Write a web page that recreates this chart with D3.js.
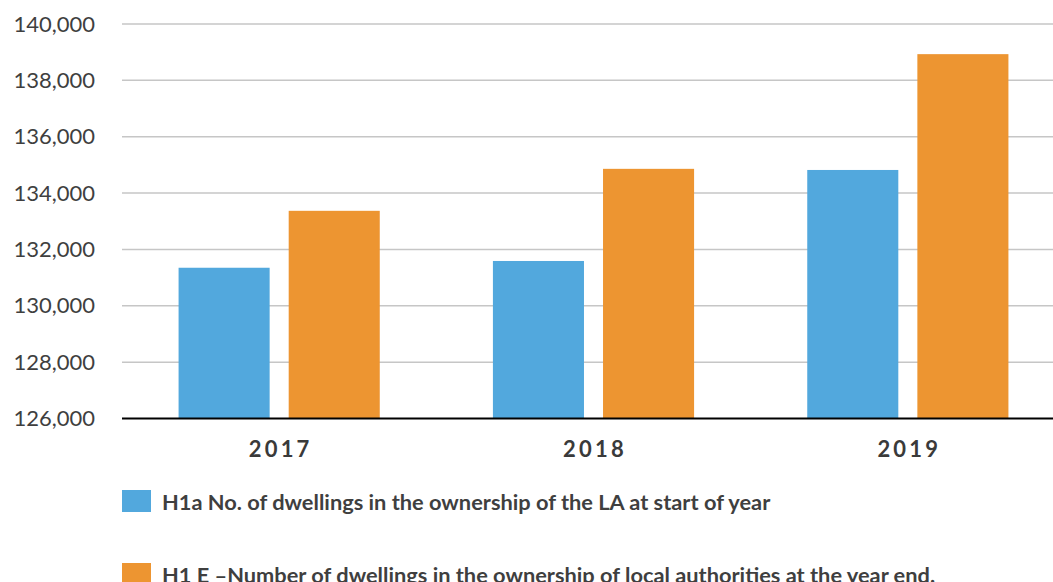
<!DOCTYPE html>
<html>
<head>
<meta charset="utf-8">
<script src="https://cdn.jsdelivr.net/npm/d3@7"></script>
<style>
  html, body { margin: 0; padding: 0; background: #fff; }
  svg { display: block; font-family: Lato, "Open Sans", sans-serif; }
</style>
</head>
<body>
<svg id="chart" width="1053" height="582"></svg>
<script>
// Dwellings owned by the local authority, by year
const years = ["2017", "2018", "2019"];
const seriesNames = [
  "H1a No. of dwellings in the ownership of the LA at start of year",
  "H1 E \u2013Number of dwellings in the ownership of local authorities at the year end."
];
const startOfYear = [131350, 131590, 134820];
const endOfYear = [133370, 134860, 138930];
const yTicks = [126000, 128000, 130000, 132000, 134000, 136000, 138000, 140000];
const colors = ["#52a8dd", "#ed9531"];

const seriesValues = [startOfYear, endOfYear];
const data = years.map((yr, i) => ({ year: yr, values: seriesValues.map(s => s[i]) }));

const svg = d3.select("#chart");
const plotLeft = 122, plotRight = 1065, plotTop = 24, plotBottom = 418.5;

const x0 = d3.scaleBand().domain(years).range([plotLeft, plotRight])
  .paddingInner(0.36).paddingOuter(0.18);
const x1 = d3.scaleBand().domain([0, 1]).range([0, x0.bandwidth()])
  .paddingInner(0.173).paddingOuter(0);
const y = d3.scaleLinear().domain([126000, 140000]).range([plotBottom, plotTop]);

// tick labels
const yAxis = d3.axisLeft(y).tickValues(yTicks).tickSize(0)
  .tickFormat(d3.format(","));
const yg = svg.append("g").attr("transform", `translate(${plotLeft},0)`).call(yAxis);
yg.select(".domain").remove();
yg.selectAll("text")
  .attr("x", -27)
  .attr("fill", "#3f3f3f")
  .style("font-size", "22px")
  .style("font-family", "Lato, sans-serif");

// horizontal gridlines
svg.append("g").selectAll("line")
  .data(yTicks.slice(1))
  .join("line")
  .attr("x1", plotLeft).attr("x2", 1053)
  .attr("y1", d => y(d)).attr("y2", d => y(d))
  .attr("stroke", "#c6c6c6").attr("stroke-width", 1.5);

// bars
const groups = svg.append("g").selectAll("g")
  .data(data)
  .join("g")
  .attr("transform", d => `translate(${x0(d.year)},0)`);

groups.selectAll("rect")
  .data(d => d.values.map((v, i) => ({ v, i })))
  .join("rect")
  .attr("x", d => x1(d.i))
  .attr("width", x1.bandwidth())
  .attr("y", d => y(d.v))
  .attr("height", d => y(126000) - y(d.v))
  .attr("fill", d => colors[d.i]);

// baseline
svg.append("line")
  .attr("x1", plotLeft).attr("x2", 1053)
  .attr("y1", plotBottom).attr("y2", plotBottom)
  .attr("stroke", "#000").attr("stroke-width", 2);

// category labels
const xAxis = d3.axisBottom(x0).tickSize(0);
const xg = svg.append("g").attr("transform", `translate(0,${plotBottom})`).call(xAxis);
xg.select(".domain").remove();
xg.selectAll("text")
  .attr("y", 0)
  .attr("dx", "1.5px")
  .attr("dy", "38.5px")
  .attr("fill", "#3a3a3a")
  .style("font-size", "22px")
  .style("font-weight", "700")
  .style("letter-spacing", "3.2px")
  .style("font-family", "Lato, sans-serif");

// legend
const legend = svg.append("g").selectAll("g")
  .data(seriesNames)
  .join("g")
  .attr("transform", (d, i) => `translate(122,${490 + i * 73})`);
legend.append("rect")
  .attr("width", 29).attr("height", 22)
  .attr("fill", (d, i) => colors[i]);
legend.append("text")
  .attr("x", 40).attr("y", 20)
  .attr("fill", "#3f3f3f")
  .style("font-size", "21.8px")
  .style("font-weight", "700")
  .text(d => d);
</script>
</body>
</html>
